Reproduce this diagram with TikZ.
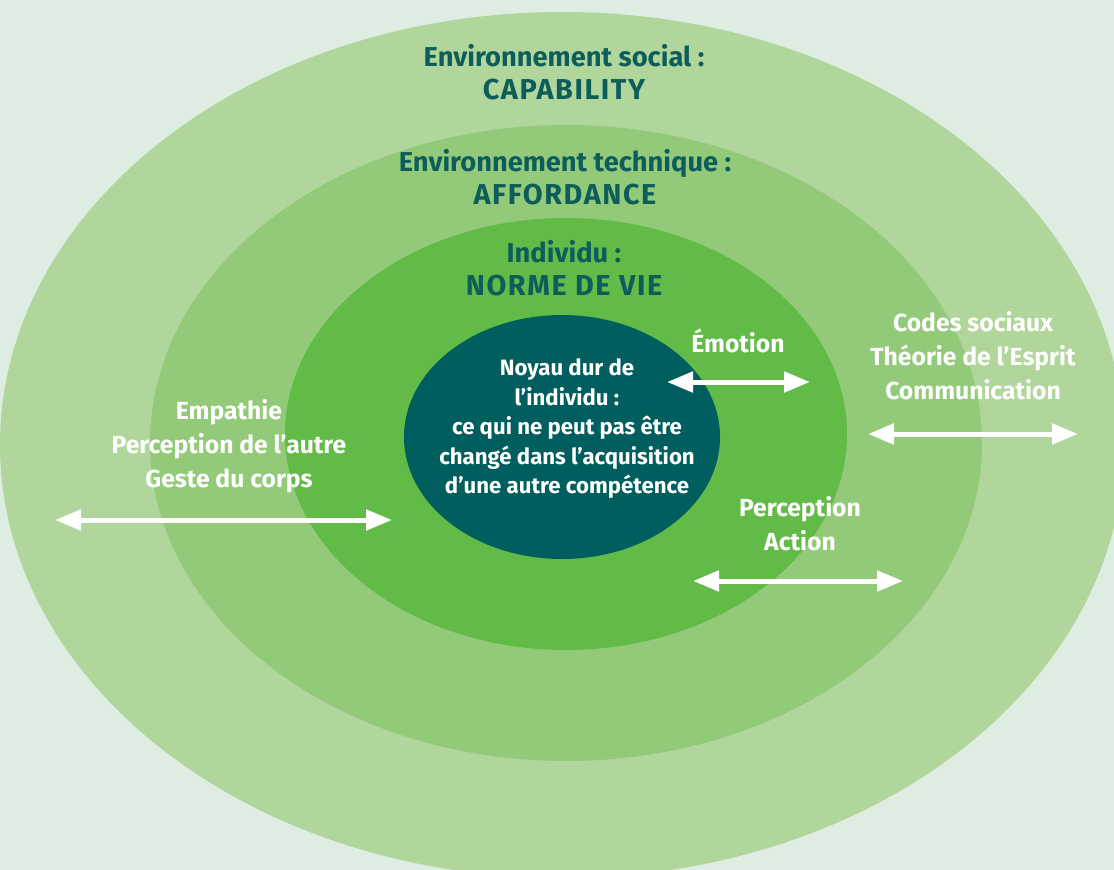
\documentclass[tikz,border=0pt]{standalone}
\usepackage{fontspec}
\setmainfont{Fira Sans}
\usetikzlibrary{arrows.meta}

\definecolor{paper}{HTML}{DDEDE2}
\definecolor{ringA}{HTML}{B0D69C}
\definecolor{ringB}{HTML}{93CA7A}
\definecolor{ringC}{HTML}{62BA47}
\definecolor{kernel}{HTML}{005F5E}
\definecolor{teal}{HTML}{0D5E5A}

% upper-case second line of each ring title
\newcommand{\capline}[1]{{\fontsize{28.8}{33}\selectfont\addfontfeature{LetterSpace=5.5}#1}}

\begin{document}
\begin{tikzpicture}[
			x=1pt, y=-1pt,
			headtext/.style={font=\fontsize{27.3}{33}\selectfont\bfseries, text=teal, align=center},
			ringtext/.style={font=\fontsize{24.7}{34}\selectfont\bfseries, text=white, align=center},
			coretext/.style={font=\fontsize{22.2}{29.5}\selectfont\bfseries, text=white, align=center},
			twoway/.style={draw=white, line width=5pt, {Triangle[length=26pt,width=20pt]}-{Triangle[length=26pt,width=20pt]}}
			]
			\useasboundingbox (0,0) rectangle (1114,870);
			\clip (0,0) rectangle (1114,870);
			\fill[paper] (0,0) rectangle (1114,870);
			
			% rings, outside in
			\fill[ringA] (562,445) ellipse (562pt and 433pt);
			\fill[ringB] (566,443) ellipse (416pt and 318pt);
			\fill[ringC] (566,434) ellipse (281pt and 216pt);
			\fill[kernel] (562,437) ellipse (158pt and 122pt);
			
			% ring titles
			\node[headtext] (social) at (564,72) {Environnement social :\\\capline{CAPABILITY}};
			\node[headtext] (technique) at (565,177) {Environnement technique :\\\capline{AFFORDANCE}};
			\node[headtext] (individu) at (564,268) {Individu :\\\capline{NORME DE VIE}};
			
			\node[coretext] (noyau) at (567,429) {Noyau dur de\\l’individu :\\ce qui ne peut pas être\\changé dans l’acquisition\\d’une autre compétence};
			
			\node[ringtext] (emotion) at (738,341) {Émotion};
			\node[ringtext] (percept) at (800,524) {Perception\\Action};
			\node[ringtext] (codes) at (973,356) {Codes sociaux\\Théorie de l’Esprit\\Communication};
			\node[ringtext] (empathie) at (229,446) {Empathie\\Perception de l’autre\\Geste du corps};
			
			% arrow ends
			\coordinate (emoL) at (667,382);
			\coordinate (emoR) at (810,382);
			\coordinate (codL) at (868,434);
			\coordinate (codR) at (1078,434);
			\coordinate (perL) at (693,581);
			\coordinate (perR) at (903,581);
			\coordinate (empL) at (55,520);
			\coordinate (empR) at (392,520);
			
			\draw[twoway] (emoL) -- (emoR);
			\draw[twoway] (codL) -- (codR);
			\draw[twoway] (perL) -- (perR);
			\draw[twoway] (empL) -- (empR);
		\end{tikzpicture}
\end{document}
